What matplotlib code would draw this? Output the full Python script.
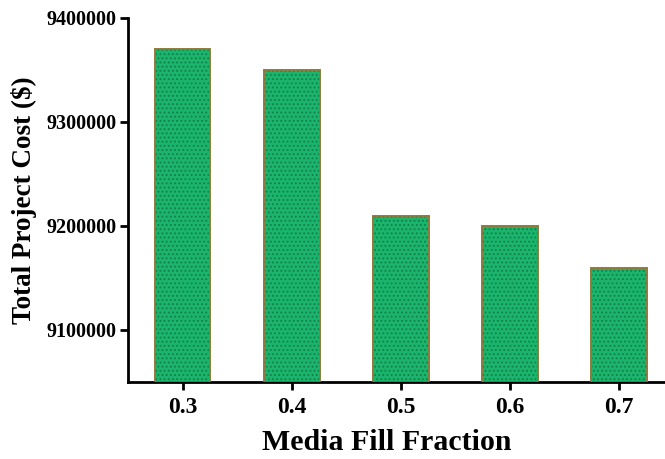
import matplotlib
matplotlib.use("Agg")
import matplotlib.pyplot as plt

categories = ["0.3", "0.4", "0.5", "0.6", "0.7"]
costs = [9370000, 9350000, 9210000, 9200000, 9160000]
yticks = [9100000, 9200000, 9300000, 9400000]

plt.rcParams['font.family'] = ['Liberation Serif', 'DejaVu Serif']
plt.rcParams['font.weight'] = 'bold'
plt.rcParams['hatch.linewidth'] = 0.8

fig = plt.figure(figsize=(6.65, 4.59), dpi=100)
ax = fig.add_axes([0.1925, 0.1678, 0.8075, 0.793])

x = list(range(len(categories)))
base = 9050000
heights = [c - base for c in costs]
ax.bar(x, heights, bottom=base, width=0.51, color='#1bb46c', edgecolor='#8f7b3c', linewidth=1.2, zorder=2)
ax.bar(x, heights, bottom=base, width=0.51, color='none', edgecolor='#137f4b', hatch='....', linewidth=0, zorder=3)
ax.bar(x, heights, bottom=base, width=0.51, color='none', edgecolor='#8f7b3c', linewidth=1.2, zorder=4)

ax.set_xlim(-0.5, 4.42)
ax.set_ylim(base, 9400000)
ax.set_yticks(yticks)
ax.set_yticklabels([str(v) for v in yticks], fontsize=14.5, fontweight='bold')
ax.set_xticks(x)
ax.set_xticklabels(categories, fontsize=17, fontweight='bold')

for s in ['top', 'right']:
    ax.spines[s].set_visible(False)
for s in ['left', 'bottom']:
    ax.spines[s].set_linewidth(2)
ax.tick_params(axis='both', width=2, length=6, direction='out')
ax.tick_params(axis='y', pad=2)
ax.tick_params(axis='x', pad=5)

ax.set_xlabel("Media Fill Fraction", fontsize=21.5, fontweight='bold')
ax.xaxis.set_label_coords(0.482, -0.128)
ax.set_ylabel("Total Project Cost ($)", fontsize=19.5, fontweight='bold', labelpad=7)

fig.savefig("out.png", dpi=100)
